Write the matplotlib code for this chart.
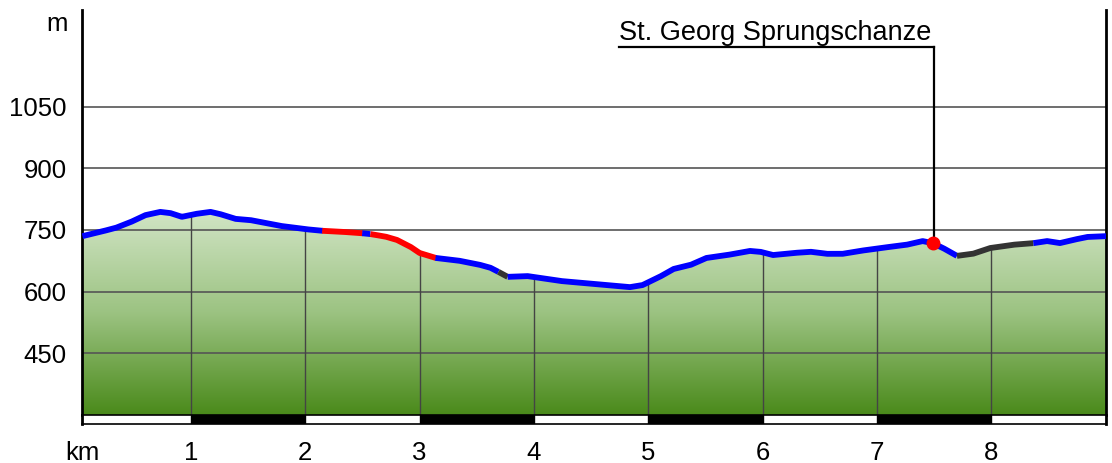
import numpy as np
import matplotlib.pyplot as plt
from matplotlib.colors import LinearSegmentedColormap
from matplotlib.patches import Rectangle

plt.rcParams.update({
    'font.family': ['Liberation Sans', 'DejaVu Sans'],
    'font.size': 18.5,
})

# elevation profile (km, m)
km = [0.05, 0.20, 0.34, 0.47, 0.60, 0.73, 0.82, 0.92, 1.04, 1.17, 1.25, 1.39,
      1.52, 1.65, 1.78, 2.00, 2.15, 2.35, 2.50, 2.57, 2.70, 2.80, 2.92, 3.00,
      3.14, 3.35, 3.53, 3.62, 3.69, 3.77, 3.94, 4.11, 4.23, 4.52, 4.84, 4.95,
      5.10, 5.22, 5.37, 5.51, 5.69, 5.89, 5.98, 6.09, 6.27, 6.42, 6.56, 6.70,
      6.85, 7.03, 7.26, 7.40, 7.49, 7.58, 7.70, 7.84, 7.99, 8.19, 8.37, 8.49,
      8.60, 8.72, 8.84, 9.01]
elev = [735, 745, 755, 769, 786, 794, 791, 782, 789, 794, 789, 777,
        774, 767, 760, 752, 748, 745, 742, 740, 734, 726, 709, 694,
        682, 675, 665, 658, 648, 636, 638, 631, 626, 619, 611, 616,
        636, 655, 665, 682, 689, 699, 697, 689, 694, 697, 692, 692,
        699, 706, 714, 723, 718, 706, 687, 692, 706, 714, 718, 723,
        718, 726, 733, 735]

# surface type segments along the route
seg_start = [0.05, 2.15, 2.50, 2.57, 3.14, 3.69, 3.77, 7.70, 8.37]
seg_end = [2.15, 2.50, 2.57, 3.14, 3.69, 3.77, 7.70, 8.37, 9.01]
seg_color = ['#0000ff', '#ff0000', '#0000ff', '#ff0000', '#0000ff',
             '#333333', '#0000ff', '#333333', '#0000ff']

poi_name = 'St. Georg Sprungschanze'
poi_km = 7.49

y_ticks = [450, 600, 750, 900, 1050]
x_ticks = [1, 2, 3, 4, 5, 6, 7, 8]

km = np.array(km)
elev = np.array(elev)
x0, x1 = 0.046, 9.005
y0, y1 = 300, 1285

W, H = 1112, 463
fig = plt.figure(figsize=(W / 100, H / 100), dpi=100)
ax = fig.add_axes([82 / W, (H - 415) / H, (1106 - 82) / W, (415 - 10) / H])
ax.set_xlim(x0, x1)
ax.set_ylim(y0, y1)

# gradient fill under profile
cmap = LinearSegmentedColormap.from_list('g', ['#4a8a1a', '#9cc382', '#d2e5c6'])
grad = np.linspace(0, 1, 256).reshape(-1, 1)
poly = ax.fill_between(km, elev, y0, color='none', lw=0)
img = ax.imshow(grad, cmap=cmap, origin='lower', aspect='auto',
                extent=[x0, x1, y0, 800], zorder=1)
img.set_clip_path(poly.get_paths()[0], transform=ax.transData)

# grid
for y in y_ticks:
    ax.axhline(y, color='#555555', lw=1.2, zorder=2)
for k in x_ticks:
    ax.vlines(k, y0, np.interp(k, km, elev), color='#444444', lw=1, zorder=2)

# profile line by segment
fine = np.linspace(km[0], km[-1], 2000)
fine_e = np.interp(fine, km, elev)
for s, e, c in zip(seg_start, seg_end, seg_color):
    m = (fine >= s - 0.003) & (fine <= e + 0.003)
    ax.plot(fine[m], fine_e[m], color=c, lw=4.2, solid_capstyle='butt',
            solid_joinstyle='round', zorder=4)

# point of interest
poi_e = np.interp(poi_km, km, elev)
ax.plot(poi_km, poi_e, 'o', color='#ff0000', ms=9, zorder=6)
lab_y = 1195
ax.plot([poi_km + 0.01, poi_km + 0.01], [poi_e, lab_y], color='black', lw=1.6, zorder=5)
ax.plot([4.74, poi_km + 0.01], [lab_y, lab_y], color='black', lw=1.6, zorder=5)
ax.text(4.74, lab_y + 3, poi_name, ha='left', va='bottom', fontsize=19.5)

ax.set_yticks(y_ticks)
ax.set_yticklabels([str(v) for v in y_ticks])
ax.tick_params(axis='y', length=0, pad=11, labelsize=18.5)
ax.set_xticks([])
for side in ['top', 'bottom']:
    ax.spines[side].set_visible(False)
ax.spines['left'].set_linewidth(2)
ax.spines['right'].set_linewidth(2)
ax.text(-14 / (1106 - 82), y1 - 35, 'm', transform=ax.get_yaxis_transform(),
        ha='right', va='center', fontsize=18.5)

# km scale band
bx = fig.add_axes([82 / W, (H - 424) / H, (1106 - 82) / W, 9 / H])
bx.set_xlim(x0, x1)
bx.set_ylim(0, 1)
for k in x_ticks[::2]:
    bx.add_patch(Rectangle((k, 0), 1, 1, color='black'))
for sp in bx.spines.values():
    sp.set_linewidth(1.2)
bx.spines['left'].set_linewidth(2)
bx.spines['right'].set_linewidth(2)
bx.set_yticks([])
bx.set_xticks([x0] + x_ticks)
bx.set_xticklabels(['km'] + [str(v) for v in x_ticks])
bx.tick_params(axis='x', length=0, pad=12, labelsize=18.5)

fig.savefig('out.png', dpi=100)
